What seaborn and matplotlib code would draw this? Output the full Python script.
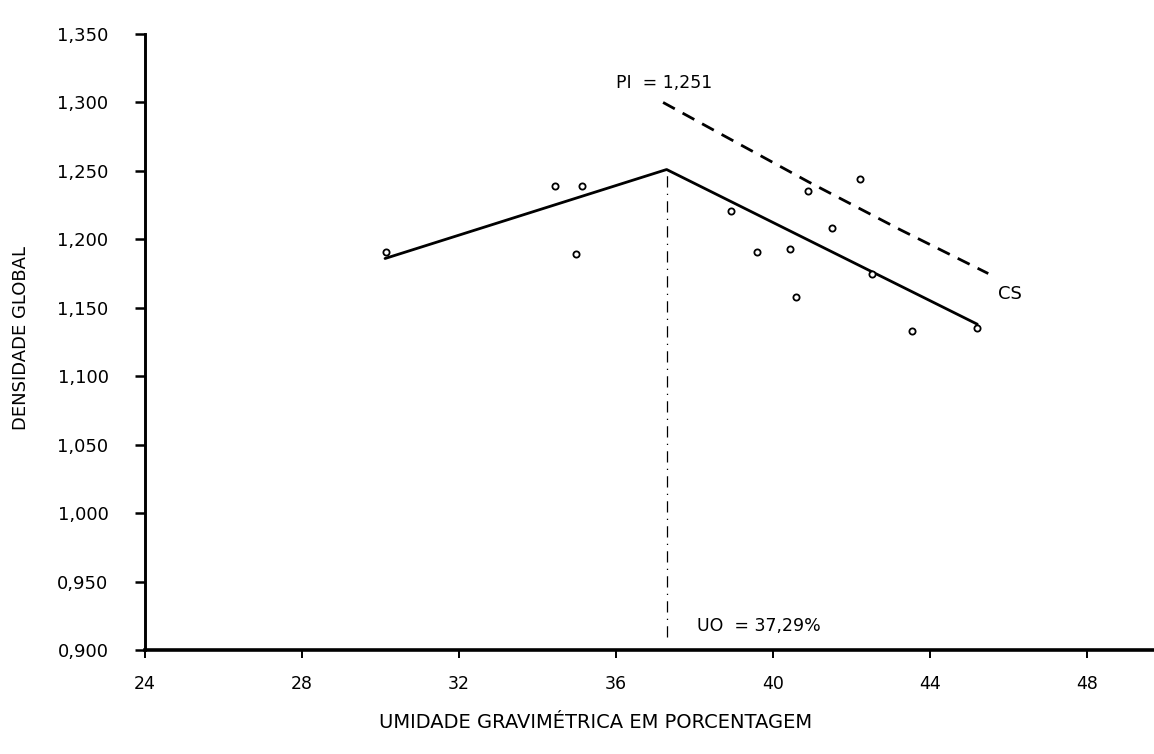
import matplotlib
matplotlib.use("Agg")
import matplotlib.pyplot as plt
import seaborn as sns
import pandas as pd

# Observed points: gravimetric moisture (%) vs. bulk density
umidade = [30.15, 34.45, 35.14, 34.99, 38.93, 40.90, 42.22, 41.51,
           39.60, 40.44, 40.59, 42.53, 43.55, 45.20]
densidade = [1.191, 1.239, 1.239, 1.189, 1.221, 1.235, 1.244, 1.208,
             1.191, 1.193, 1.158, 1.175, 1.133, 1.135]

# Fitted broken line (optimum moisture / maximum density at the vertex)
uo = 37.29
pi_val = 1.251
ajuste_x = [30.12, uo, 45.20]
ajuste_y = [1.186, pi_val, 1.138]

# Saturation curve (CS)
cs_x = [37.20, 38.73, 40.90, 43.24, 45.48]
cs_y = [1.300, 1.276, 1.242, 1.207, 1.175]

x_ticks = [24, 28, 32, 36, 40, 44, 48]
y_ticks = [0.900, 0.950, 1.000, 1.050, 1.100, 1.150, 1.200, 1.250, 1.300, 1.350]
y_tick_labels = ["0,900", "0,950", "1,000", "1,050", "1,100", "1,150",
                 "1,200", "1,250", "1,300", "1,350"]

sns.set_theme(style="white")
plt.rcParams["font.family"] = ["DejaVu Sans"]
plt.rcParams["text.color"] = "black"
plt.rcParams["axes.labelcolor"] = "black"

fig = plt.figure(figsize=(11.54, 7.54), dpi=100)
ax = fig.add_axes([144.7 / 1154, 104 / 754, 1 - 144.7 / 1154, 616 / 754])

pontos = pd.DataFrame({"umidade": umidade, "densidade": densidade})
ajuste = pd.DataFrame({"x": ajuste_x, "y": ajuste_y})
cs = pd.DataFrame({"x": cs_x, "y": cs_y})

sns.lineplot(data=ajuste, x="x", y="y", ax=ax, color="black",
             linewidth=2.0, sort=False)
sns.lineplot(data=cs, x="x", y="y", ax=ax, color="black",
             linewidth=2.0, sort=False, linestyle=(0, (4.8, 3.2)))
sns.scatterplot(data=pontos, x="umidade", y="densidade", ax=ax,
                marker="o", s=20, facecolor="white", edgecolor="black",
                linewidth=1.3, zorder=3)

# Vertical marker at the optimum moisture
ax.plot([uo, uo], [0.9095, pi_val], color="black", linewidth=0.9,
        linestyle=(0, (9, 5, 1, 5)))

ax.text(36.0, 1.314, "PI  = 1,251", fontsize=12.5, ha="left", va="center",
        color="black")
ax.text(38.07, 0.9175, "UO  = 37,29%", fontsize=12.5, ha="left", va="center",
        color="black")
ax.text(45.73, 1.160, "CS", fontsize=13, ha="left", va="center",
        color="black")

ax.set_xlim(24, 49.7)
ax.set_ylim(0.9, 1.35)
ax.set_xticks(x_ticks)
ax.set_xticklabels([str(t) for t in x_ticks], fontsize=12.5)
ax.set_yticks(y_ticks)
ax.set_yticklabels(y_tick_labels, fontsize=13)

for side in ("top", "right"):
    ax.spines[side].set_visible(False)
ax.spines["left"].set_linewidth(2.1)
ax.spines["bottom"].set_linewidth(2.6)
ax.spines["left"].set_color("black")
ax.spines["bottom"].set_color("black")

ax.tick_params(axis="x", direction="out", length=6, width=1.4,
               pad=12, colors="black", bottom=True)
ax.tick_params(axis="y", direction="out", length=7, width=1.8,
               pad=19, colors="black", left=True)

ax.set_xlabel("UMIDADE GRAVIMÉTRICA EM PORCENTAGEM", fontsize=14)
ax.set_ylabel("DENSIDADE GLOBAL", fontsize=13)
ax.xaxis.set_label_coords(0.447, -0.1185)
ax.xaxis.label.set_verticalalignment("center")
ax.yaxis.set_label_coords(-0.1226, 0.506)
ax.yaxis.label.set_verticalalignment("center")

ax.grid(False)
fig.savefig("out.png", dpi=100, facecolor="white")
